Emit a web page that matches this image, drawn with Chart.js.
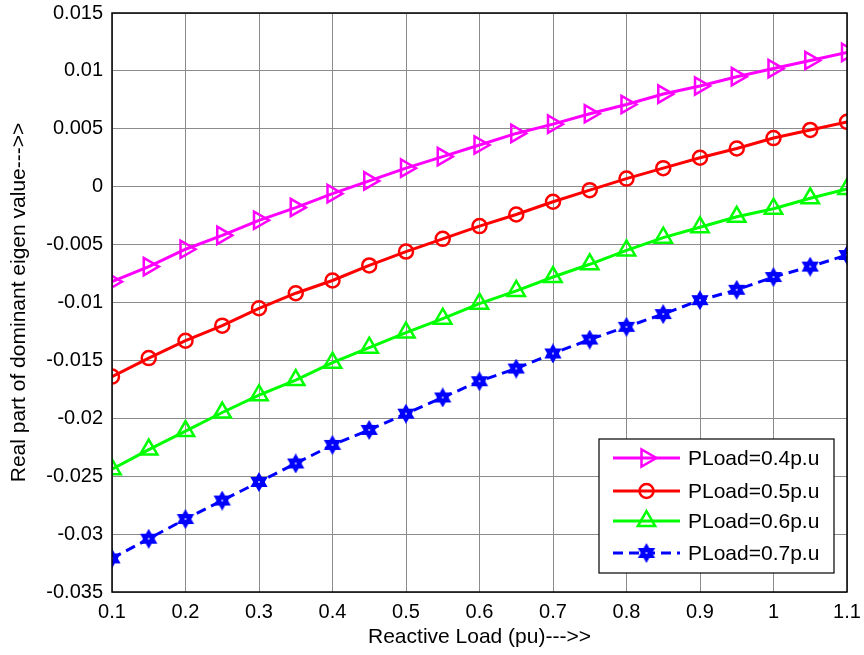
<!DOCTYPE html>
<html>
<head>
<meta charset="utf-8">
<script src="https://cdn.jsdelivr.net/npm/chart.js@4.4.1/dist/chart.umd.min.js"></script>
<style>
  html, body { margin: 0; padding: 0; background: #fff; }
  canvas { display: block; }
</style>
</head>
<body>
<canvas id="eigenChart" width="864" height="655"></canvas>
<script>
// Reactive load (pu) on the x axis
const reactiveLoad = [0.1, 0.15, 0.2, 0.25, 0.3, 0.35, 0.4, 0.45, 0.5, 0.55, 0.6,
                      0.65, 0.7, 0.75, 0.8, 0.85, 0.9, 0.95, 1.0, 1.05, 1.1];

// Real part of dominant eigen value, one array per active load
const pload04 = [-0.0082, -0.0069, -0.0054, -0.0042, -0.0029, -0.0018, -0.0006, 0.0005, 0.0016, 0.0026, 0.0036,
                 0.0046, 0.0054, 0.0063, 0.0071, 0.0080, 0.0087, 0.0095, 0.0102, 0.0109, 0.0116];
const pload05 = [-0.0164, -0.0148, -0.0133, -0.0120, -0.0105, -0.0092, -0.0081, -0.0068, -0.0056, -0.0045, -0.0034,
                 -0.0024, -0.0013, -0.0003, 0.0007, 0.0016, 0.0025, 0.0033, 0.0042, 0.0049, 0.0056];
const pload06 = [-0.0244, -0.0227, -0.0211, -0.0195, -0.0180, -0.0167, -0.0152, -0.0139, -0.0126, -0.0114, -0.0101,
                 -0.0090, -0.0078, -0.0067, -0.0055, -0.0044, -0.0035, -0.0026, -0.0019, -0.0010, -0.0002];
const pload07 = [-0.0321, -0.0304, -0.0287, -0.0271, -0.0255, -0.0239, -0.0223, -0.0210, -0.0196, -0.0182, -0.0168,
                 -0.0157, -0.0144, -0.0132, -0.0121, -0.0110, -0.0098, -0.0089, -0.0078, -0.0069, -0.0059];

const seriesLabels = ['PLoad=0.4p.u', 'PLoad=0.5p.u', 'PLoad=0.6p.u', 'PLoad=0.7p.u'];

const FONT = 'Arial, "Liberation Sans", sans-serif';

function toPoints(ys) {
    return reactiveLoad.map((x, i) => ({ x: x, y: ys[i] }));
}

// six pointed star marker (MATLAB 'h')
function makeHexagram(color) {
    const c = document.createElement('canvas');
    c.width = 20; c.height = 20;
    const g = c.getContext('2d');
    const cx = 10, cy = 10, r = 8.5;
    g.fillStyle = color;
    g.strokeStyle = color;
    g.lineWidth = 1.5;
    [-90, 90].forEach(function(start) {
        g.beginPath();
        for (let k = 0; k < 3; k++) {
            const a = (start + k * 120) * Math.PI / 180;
            const px = cx + r * Math.cos(a), py = cy + r * Math.sin(a);
            if (k === 0) g.moveTo(px, py); else g.lineTo(px, py);
        }
        g.closePath();
        g.fill();
        g.stroke();
    });
    g.fillStyle = 'rgba(255,255,255,0.6)';
    g.fillRect(9, 9, 2, 2);
    return c;
}
const hexStar = makeHexagram('#0000ff');

// black box round the plot area
const boxPlugin = {
    id: 'boxPlugin',
    afterDraw(chart) {
        const a = chart.chartArea, ctx = chart.ctx;
        ctx.save();
        ctx.strokeStyle = '#000';
        ctx.lineWidth = 1.5;
        ctx.strokeRect(a.left, a.top, a.right - a.left, a.bottom - a.top);
        ctx.restore();
    }
};

// legend box in the lower right, like MATLAB
const legendPlugin = {
    id: 'legendPlugin',
    afterDraw(chart) {
        const ctx = chart.ctx;
        const x0 = 599, y0 = 439, w = 235, h = 134;
        const rows = [458, 491, 521, 553];
        ctx.save();
        ctx.fillStyle = '#fff';
        ctx.fillRect(x0, y0, w, h);
        ctx.strokeStyle = '#000';
        ctx.lineWidth = 1.2;
        ctx.strokeRect(x0, y0, w, h);
        chart.data.datasets.forEach(function(ds, i) {
            const y = rows[i];
            ctx.strokeStyle = ds.borderColor;
            ctx.lineWidth = ds.borderWidth;
            ctx.setLineDash(ds.borderDash || []);
            ctx.beginPath();
            ctx.moveTo(613, y);
            ctx.lineTo(680, y);
            ctx.stroke();
            ctx.setLineDash([]);
            ctx.fillStyle = ds.pointBackgroundColor;
            ctx.strokeStyle = ds.borderColor;
            ctx.lineWidth = ds.pointBorderWidth;
            Chart.helpers.drawPoint(ctx, {
                pointStyle: ds.pointStyle,
                rotation: ds.pointRotation || 0,
                radius: ds.pointRadius,
                borderWidth: ds.pointBorderWidth
            }, 646.5, y);
            ctx.fillStyle = '#000';
            ctx.font = '21px ' + FONT;
            ctx.textBaseline = 'middle';
            ctx.textAlign = 'left';
            ctx.fillText(ds.label, 688, y + 1);
        });
        ctx.restore();
    }
};

const seriesData = [pload04, pload05, pload06, pload07];
const seriesColors = ['#ff00ff', '#ff0000', '#00ff00', '#0000ff'];

new Chart(document.getElementById('eigenChart'), {
    type: 'line',
    data: {
        datasets: [{
            label: seriesLabels[0],
            data: toPoints(seriesData[0]),
            borderColor: seriesColors[0],
            borderWidth: 3,
            pointStyle: 'triangle',
            pointRotation: 90,
            pointRadius: 10,
            pointBorderWidth: 2.5,
            pointBackgroundColor: 'rgba(0,0,0,0)'
        }, {
            label: seriesLabels[1],
            data: toPoints(seriesData[1]),
            borderColor: seriesColors[1],
            borderWidth: 3,
            pointStyle: 'circle',
            pointRadius: 7,
            pointBorderWidth: 2.5,
            pointBackgroundColor: 'rgba(0,0,0,0)'
        }, {
            label: seriesLabels[2],
            data: toPoints(seriesData[2]),
            borderColor: seriesColors[2],
            borderWidth: 3,
            pointStyle: 'triangle',
            pointRadius: 10,
            pointBorderWidth: 2.5,
            pointBackgroundColor: 'rgba(0,0,0,0)'
        }, {
            label: seriesLabels[3],
            data: toPoints(seriesData[3]),
            borderColor: seriesColors[3],
            borderWidth: 3,
            borderDash: [10, 6],
            pointStyle: hexStar,
            pointRadius: 10,
            pointBorderWidth: 1,
            pointBackgroundColor: seriesColors[3]
        }]
    },
    options: {
        responsive: false,
        animation: false,
        devicePixelRatio: 1,
        layout: { padding: { top: 13, right: 17, left: 0, bottom: 0 } },
        plugins: {
            legend: { display: false },
            tooltip: { enabled: false }
        },
        elements: { line: { tension: 0 } },
        scales: {
            x: {
                type: 'linear',
                min: 0.1,
                max: 1.1,
                afterFit: function(scale) {
                    scale.height = 63;
                    scale.paddingLeft = 0;
                    scale.paddingRight = 0;
                },
                grid: { color: '#8c8c8c', lineWidth: 1, drawTicks: false },
                border: { display: false },
                ticks: {
                    stepSize: 0.1,
                    padding: 8,
                    color: '#000',
                    font: { family: FONT, size: 20 },
                    maxRotation: 0,
                    callback: function(v) { return String(Math.round(v * 10) / 10); }
                },
                title: {
                    display: true,
                    text: 'Reactive Load (pu)--->>',
                    color: '#000',
                    font: { family: FONT, size: 21 },
                    padding: { top: 0, bottom: 5 }
                }
            },
            y: {
                min: -0.035,
                max: 0.015,
                afterFit: function(scale) {
                    scale.width = 112;
                    scale.paddingTop = 0;
                    scale.paddingBottom = 0;
                },
                grid: { color: '#8c8c8c', lineWidth: 1, drawTicks: false },
                border: { display: false },
                ticks: {
                    stepSize: 0.005,
                    padding: 9,
                    color: '#000',
                    font: { family: FONT, size: 20 },
                    callback: function(v) {
                        const s = Number(v.toFixed(3));
                        return String(s === 0 ? 0 : s);
                    }
                },
                title: {
                    display: true,
                    text: 'Real part of dominant eigen value--->>',
                    color: '#000',
                    font: { family: FONT, size: 21 },
                    padding: { top: 7, bottom: 0 }
                }
            }
        }
    },
    plugins: [boxPlugin, legendPlugin]
});
</script>
</body>
</html>
